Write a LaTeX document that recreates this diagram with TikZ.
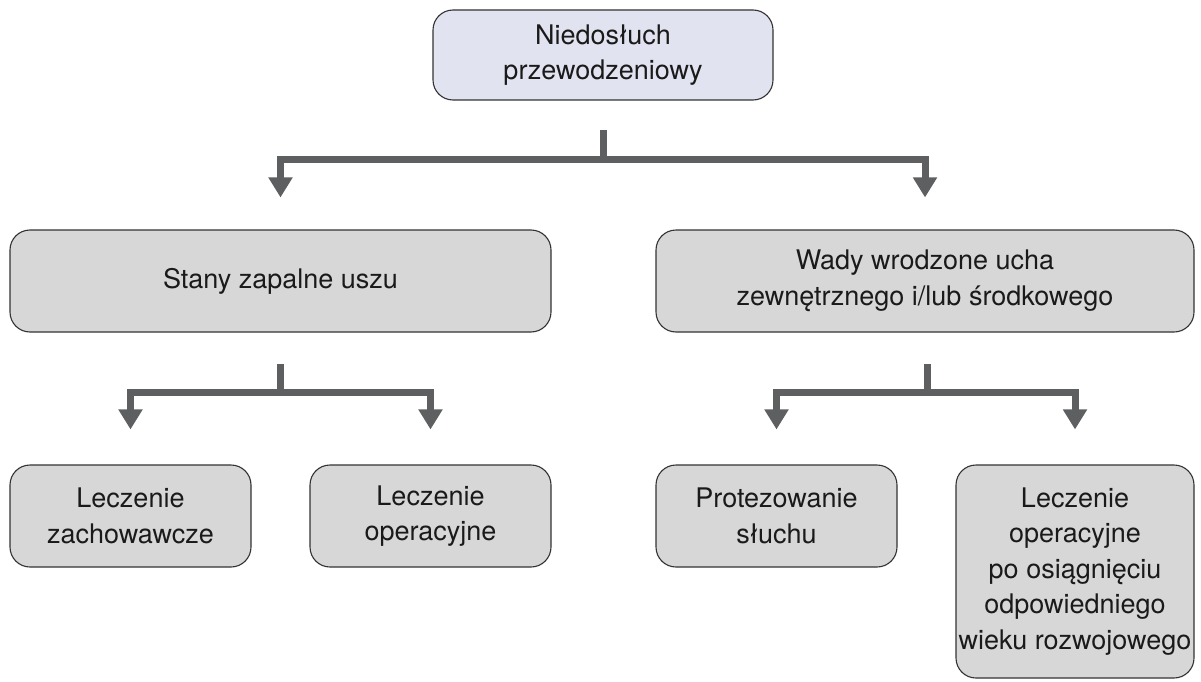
\documentclass[tikz,border=0pt]{standalone}
\usepackage{fontspec}
\setmainfont{TeX Gyre Heros}
\usetikzlibrary{arrows.meta}
\definecolor{boxgray}{HTML}{D7D7D7}
\definecolor{boxblue}{HTML}{E1E3F0}
\definecolor{linegray}{HTML}{5E5F61}
\definecolor{edgegray}{HTML}{333333}
\definecolor{txt}{HTML}{1A1A1A}
\tikzset{
  box/.style={draw=edgegray, line width=1.1pt, fill=boxgray, rounded corners=20pt,
    align=center, inner sep=1pt, text=txt,
    font=\fontsize{27}{35.5}\selectfont},
  conn/.style={draw=linegray, line width=7pt, line cap=butt, line join=miter},
  arr/.style={conn, -{Triangle[width=23pt,length=20pt]}}
}
\begin{document}
\begin{tikzpicture}[x=1pt,y=-1pt]
\useasboundingbox (0,0) rectangle (1201,682);
\node[box, fill=boxblue, minimum width=340pt, minimum height=90pt] (top) at (603,55) {Niedosłuch\\przewodzeniowy};
\node[box, minimum width=541pt, minimum height=102pt] (a) at (280.5,281) {Stany zapalne uszu};
\node[box, minimum width=538pt, minimum height=102pt] (b) at (925,281) {Wady wrodzone ucha\\zewnętrznego i/lub środkowego};
\node[box, minimum width=241pt, minimum height=102pt] (c) at (130.5,516) {Leczenie\\zachowawcze};
\node[box, minimum width=241pt, minimum height=102pt] (d) at (430.5,516) {Leczenie\\operacyjne};
\node[box, minimum width=241pt, minimum height=102pt] (e) at (776.5,516) {Protezowanie\\słuchu};
\node[box, minimum width=238pt, minimum height=213pt] (f) at (1075,571.5) {Leczenie\\operacyjne\\po osiągnięciu\\odpowiedniego\\wieku rozwojowego};
% level 1
\coordinate (t1) at (603,130);
\coordinate (h1) at (603,159);
\draw[conn] (t1) -- (h1);
\draw[arr] (h1) -| ([yshift=32pt]a.north);
\draw[arr] (h1) -| ([yshift=32pt]b.north);
% level 2 left
\coordinate (t2) at (280,364);
\coordinate (h2) at (280,392);
\draw[conn] (t2) -- (h2);
\draw[arr] (h2) -| ([yshift=35pt]c.north);
\draw[arr] (h2) -| ([yshift=35pt]d.north);
% level 2 right
\coordinate (t3) at (927,364);
\coordinate (h3) at (927,392);
\draw[conn] (t3) -- (h3);
\draw[arr] (h3) -| ([yshift=35pt]e.north);
\draw[arr] (h3) -| ([yshift=35pt]f.north);
\end{tikzpicture}
\end{document}
